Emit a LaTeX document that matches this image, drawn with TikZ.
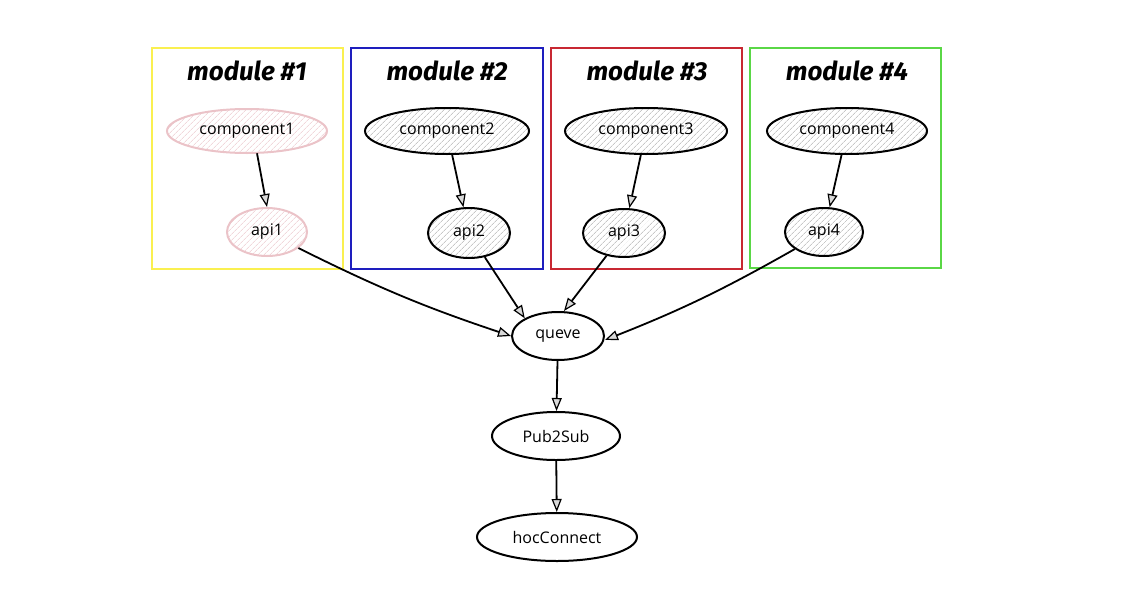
\documentclass[tikz,border=0pt]{standalone}
\usepackage{fontspec}
\setmainfont{Open Sans}
\newfontfamily\titlefont{Fira Sans}
\usetikzlibrary{shapes.geometric,arrows.meta,patterns.meta}
\definecolor{mYellow}{RGB}{250,240,80}
\definecolor{mBlue}{RGB}{30,30,190}
\definecolor{mRed}{RGB}{200,40,50}
\definecolor{mGreen}{RGB}{90,215,70}
\definecolor{pinkline}{RGB}{235,195,200}
\definecolor{hatch}{RGB}{170,170,170}
\tikzset{
  modbox/.style={line width=2.2pt},
  modtitle/.style={font=\titlefont\fontsize{26}{30}\selectfont\bfseries\itshape},
  ent/.style={ellipse, draw=black, line width=2pt, inner sep=0pt,
    font=\fontsize{16}{19}\selectfont,
    pattern={Lines[angle=45,distance=4pt,line width=0.6pt]}, pattern color=hatch},
  pinkent/.style={ent, draw=pinkline, pattern color=pinkline},
  arr/.style={line width=1.8pt, -{Triangle[length=13pt,width=10pt,line width=1.2pt,fill=black!15]}}
}
\begin{document}
\begin{tikzpicture}[x=1pt,y=-1pt]
\useasboundingbox (0,0) rectangle (1126,589);
\fill[white] (0,0) rectangle (1126,589);
% module boxes
\draw[modbox, draw=mYellow] (152,48) rectangle (343,269);
\draw[modbox, draw=mBlue] (351,48) rectangle (543,269);
\draw[modbox, draw=mRed] (551,48) rectangle (742,269);
\draw[modbox, draw=mGreen] (750,48) rectangle (941,268);
\node[modtitle] (t1) at (247,71) {module \#1};
\node[modtitle] (t2) at (447,71) {module \#2};
\node[modtitle] (t3) at (647,71) {module \#3};
\node[modtitle] (t4) at (847,71) {module \#4};
% components
\node[pinkent, minimum width=160pt, minimum height=44pt] (c1) at (247,131) {component1};
\node[ent, minimum width=164pt, minimum height=46pt] (c2) at (447,131) {component2};
\node[ent, minimum width=162pt, minimum height=46pt] (c3) at (646,131) {component3};
\node[ent, minimum width=160pt, minimum height=46pt] (c4) at (847,131) {component4};
% apis
\node[pinkent, minimum width=80pt, minimum height=48pt] (a1) at (267,232) {api1};
\node[ent, minimum width=82pt, minimum height=50pt] (a2) at (469,233) {api2};
\node[ent, minimum width=82pt, minimum height=48pt] (a3) at (624,233) {api3};
\node[ent, minimum width=78pt, minimum height=48pt] (a4) at (824,232) {api4};
% lower chain
\node[ent, pattern=none, minimum width=92pt, minimum height=48pt] (q) at (558,336) {queve};
\node[ent, pattern=none, minimum width=128pt, minimum height=48pt] (p) at (556,436) {Pub2Sub};
\node[ent, pattern=none, minimum width=160pt, minimum height=48pt] (h) at (557,537) {hocConnect};
% connectors
\draw[arr] (c1.south) ++(10,0) -- (a1.north);
\draw[arr] (c2) -- (a2);
\draw[arr] (c3) -- (a3);
\draw[arr] (c4) -- (a4);
\draw[arr] (a1) to[bend right=4] (q.west);
\draw[arr] (a2) -- (q.north west);
\draw[arr] (a3) -- ([xshift=6pt]q.north);
\draw[arr] (a4) to[bend left=4] ([yshift=-4pt]q.east);
\draw[arr] (q) -- (p);
\draw[arr] (p) -- (h);
\end{tikzpicture}
\end{document}
